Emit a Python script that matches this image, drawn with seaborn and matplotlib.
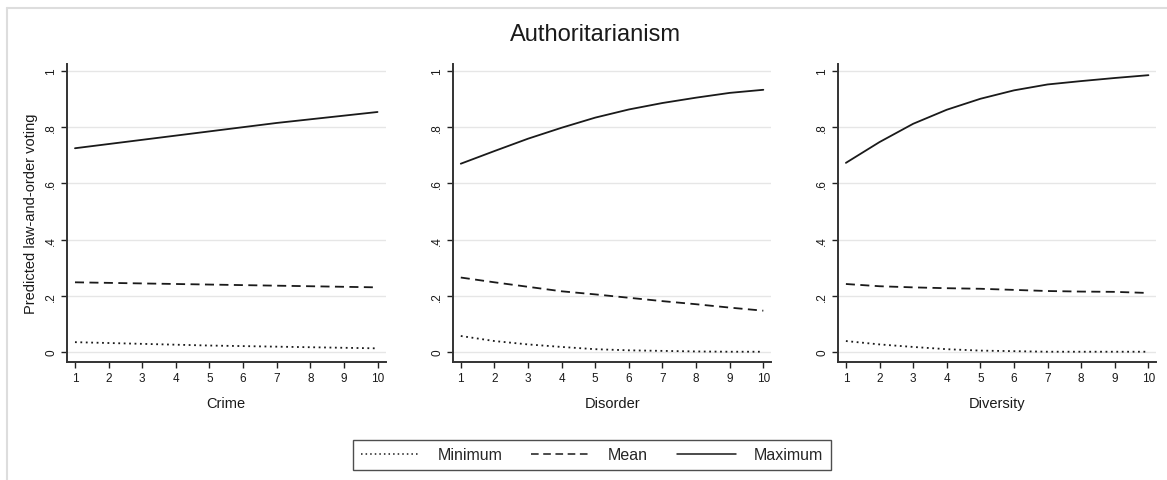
import pandas as pd
import seaborn as sns
import matplotlib.pyplot as plt
from matplotlib.lines import Line2D

# Valores
x_vals = [1, 2, 3, 4, 5, 6, 7, 8, 9, 10]
paineis = ["Crime", "Disorder", "Diversity"]
niveis = ["Minimum", "Mean", "Maximum"]

crime_min = [0.035, 0.032, 0.029, 0.026, 0.023, 0.021, 0.019, 0.017, 0.015, 0.013]
crime_mean = [0.248, 0.246, 0.244, 0.242, 0.240, 0.238, 0.236, 0.234, 0.232, 0.230]
crime_max = [0.725, 0.740, 0.755, 0.770, 0.785, 0.800, 0.815, 0.828, 0.841, 0.854]

disorder_min = [0.057, 0.039, 0.027, 0.018, 0.010, 0.006, 0.004, 0.002, 0.001, 0.001]
disorder_mean = [0.265, 0.248, 0.232, 0.216, 0.205, 0.193, 0.181, 0.170, 0.158, 0.147]
disorder_max = [0.670, 0.715, 0.759, 0.798, 0.834, 0.863, 0.886, 0.905, 0.922, 0.933]

diversity_min = [0.039, 0.027, 0.018, 0.010, 0.005, 0.003, 0.001, 0.001, 0.001, 0.001]
diversity_mean = [0.242, 0.234, 0.230, 0.227, 0.225, 0.221, 0.217, 0.215, 0.214, 0.210]
diversity_max = [0.673, 0.747, 0.812, 0.862, 0.901, 0.931, 0.952, 0.964, 0.975, 0.985]

series = {
    "Crime": [crime_min, crime_mean, crime_max],
    "Disorder": [disorder_min, disorder_mean, disorder_max],
    "Diversity": [diversity_min, diversity_mean, diversity_max],
}

linhas = []
for painel in paineis:
    for nivel, valores in zip(niveis, series[painel]):
        for x, v in zip(x_vals, valores):
            linhas.append({"painel": painel, "x": x, "nivel": nivel, "valor": v})
df = pd.DataFrame(linhas)

sns.set_theme(style="white")
plt.rcParams["font.family"] = ["Liberation Sans", "DejaVu Sans"]

fig = plt.figure(figsize=(11.67, 4.81), dpi=100)
fig.patch.set_facecolor("white")

# posições dos painéis (em fração da figura)
lefts = [0.0574, 0.388, 0.718]
largura = 0.273
base, altura = 0.2453, 0.6197

estilos = {"Minimum": (1, 2), "Mean": (5, 3), "Maximum": ""}
cor_linha = "#1a1a1a"

for i, painel in enumerate(paineis):
    ax = fig.add_axes([lefts[i], base, largura, altura])
    sub = df[df["painel"] == painel]
    sns.lineplot(data=sub, x="x", y="valor", style="nivel", style_order=niveis,
                 dashes=estilos, color=cor_linha, linewidth=1.3, ax=ax, legend=False)
    ax.set_xlim(0.762, 10.24)
    ax.set_ylim(-0.0356, 1.025)
    ax.set_xticks(x_vals)
    ax.set_yticks([0, 0.2, 0.4, 0.6, 0.8, 1.0])
    ax.set_yticklabels(["0", ".2", ".4", ".6", ".8", "1"], rotation=90, va="center")
    ax.tick_params(axis="both", direction="out", length=4, width=1, color="#222222",
                   labelsize=8.5, labelcolor="#1a1a1a", pad=3, left=True, bottom=True)
    ax.grid(axis="y", color="#e6e6e6", linewidth=1)
    ax.grid(axis="x", visible=False)
    for lado in ["top", "right"]:
        ax.spines[lado].set_visible(False)
    for lado in ["left", "bottom"]:
        ax.spines[lado].set_color("#333333")
        ax.spines[lado].set_linewidth(1.4)
    ax.set_xlabel(painel, fontsize=10.5, color="#1a1a1a", labelpad=9)
    if i == 0:
        ax.set_ylabel("Predicted law-and-order voting", fontsize=10.5, color="#1a1a1a", labelpad=5)
    else:
        ax.set_ylabel("")

fig.text(595 / 1167, 1 - 35 / 481, "Authoritarianism", ha="center", va="center",
         fontsize=17, color="#1a1a1a")

# legenda
handles = [Line2D([], [], color=cor_linha, linewidth=1.1, dashes=(1, 2)),
           Line2D([], [], color=cor_linha, linewidth=1.1, dashes=(5, 3)),
           Line2D([], [], color=cor_linha, linewidth=1.1)]
leg = fig.legend(handles, niveis, loc="center",
                 bbox_to_anchor=(592 / 1167, 1 - 456 / 481), ncol=3, fontsize=11.5,
                 frameon=True, fancybox=False, handlelength=3.7, columnspacing=1.8,
                 handletextpad=1.1, borderpad=0.5, borderaxespad=0)
leg.get_frame().set_edgecolor("#222222")
leg.get_frame().set_linewidth(1)

# moldura cinza clara da figura
fig.add_artist(Line2D([7 / 1167, 7 / 1167], [0, 1 - 9 / 481], transform=fig.transFigure,
                      color="#dddddd", linewidth=1.5))
fig.add_artist(Line2D([7 / 1167, 1], [1 - 9 / 481, 1 - 9 / 481], transform=fig.transFigure,
                      color="#dddddd", linewidth=1.5))

plt.savefig("out.png", dpi=100)
plt.close()
